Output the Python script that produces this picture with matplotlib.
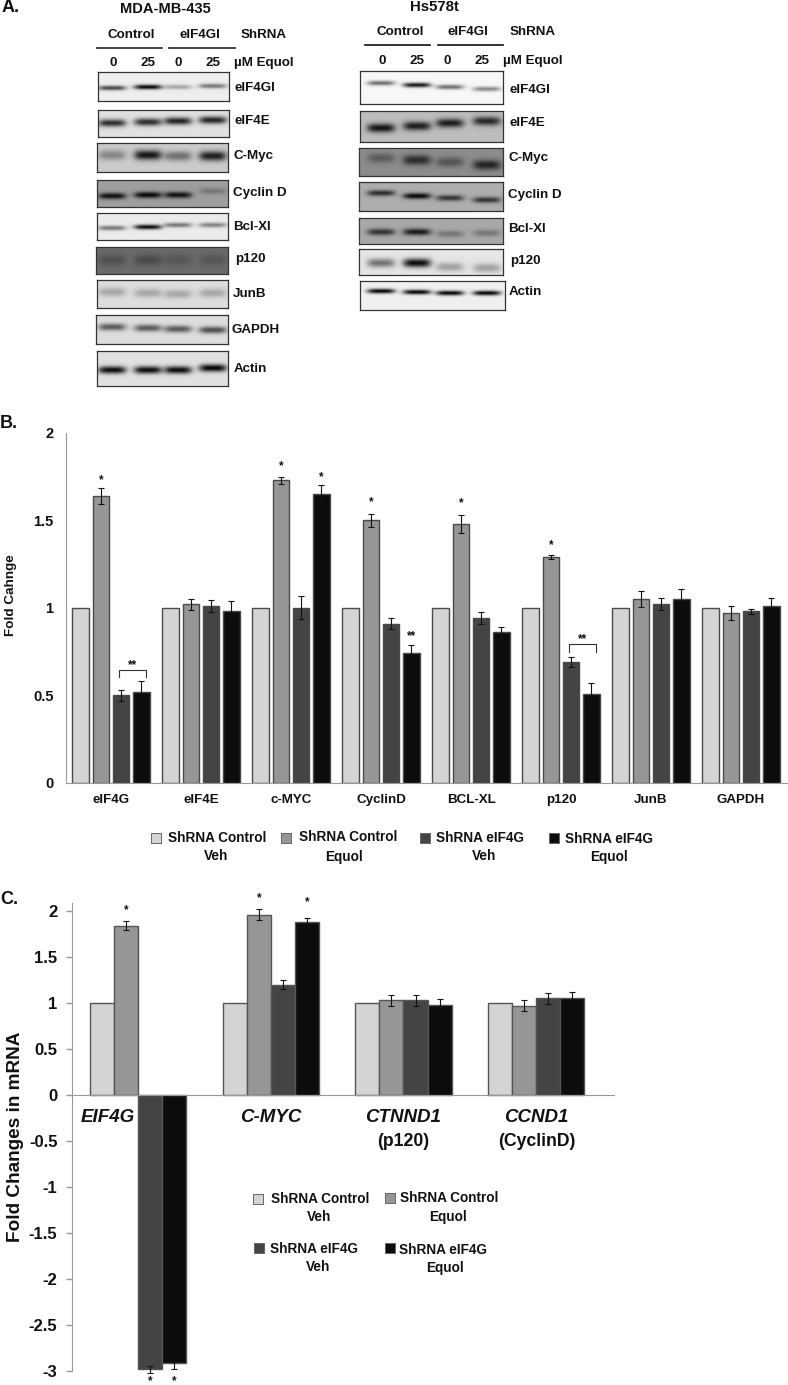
import numpy as np
import matplotlib
matplotlib.use('Agg')
import matplotlib.pyplot as plt

plt.rcParams['font.family'] = ['Liberation Sans', 'DejaVu Sans']
plt.rcParams['font.weight'] = 'bold'

W, H = 788, 1385

# panel B
b_groups = ['eIF4G', 'eIF4E', 'c-MYC', 'CyclinD', 'BCL-XL', 'p120', 'JunB', 'GAPDH']
b_ctrl_veh = [1, 1, 1, 1, 1, 1, 1, 1]
b_ctrl_eq = [1.64, 1.02, 1.73, 1.50, 1.48, 1.29, 1.05, 0.97]
b_sh_veh = [0.50, 1.01, 1.00, 0.91, 0.94, 0.69, 1.02, 0.98]
b_sh_eq = [0.52, 0.98, 1.65, 0.74, 0.86, 0.51, 1.05, 1.01]
b_err_ctrl_eq = [0.045, 0.03, 0.02, 0.035, 0.05, 0.012, 0.045, 0.04]
b_err_sh_veh = [0.033, 0.035, 0.065, 0.03, 0.035, 0.03, 0.035, 0.015]
b_err_sh_eq = [0.06, 0.06, 0.055, 0.05, 0.03, 0.06, 0.06, 0.045]
b_stars = [(0, 1, 1.73, '*'), (2, 1, 1.81, '*'), (2, 3, 1.745, '*'), (3, 1, 1.607, '*'),
           (3, 3, 0.84, '**'), (4, 1, 1.60, '*'), (5, 1, 1.36, '*')]
b_brackets = [(0, 0.644, 0.605), (5, 0.793, 0.746)]

# panel C
c_groups = ['EIF4G', 'C-MYC', 'CTNND1', 'CCND1']
c_ctrl_veh = [1, 1, 1, 1]
c_ctrl_eq = [1.84, 1.96, 1.03, 0.97]
c_sh_veh = [-2.98, 1.20, 1.03, 1.05]
c_sh_eq = [-2.91, 1.88, 0.98, 1.06]
c_err_ctrl_eq = [0.05, 0.06, 0.06, 0.06]
c_err_sh_veh = [0.04, 0.05, 0.06, 0.06]
c_err_sh_eq = [0.07, 0.04, 0.06, 0.06]
c_stars = [(0, 1, 2.01), (1, 1, 2.14), (1, 3, 2.10), (0, 2, -3.105), (0, 3, -3.105)]

colors = ['#d4d4d4', '#969696', '#444444', '#0c0c0c']

# blots, left panel
left_names = ['eIF4GI', 'eIF4E', 'C-Myc', 'Cyclin D', 'Bcl-Xl', 'p120', 'JunB', 'GAPDH', 'Actin']
left_boxes = [(98, 72, 229, 101), (98, 110, 229, 137), (97, 143, 228, 172), (97, 180, 228, 207),
              (97, 213, 228, 240), (96, 247, 228, 274), (97, 280, 228, 308), (96, 315, 228, 344),
              (97, 351, 228, 386)]
left_bg = [0.93, 0.88, 0.80, 0.62, 0.92, 0.42, 0.87, 0.87, 0.88]
left_sigma = [2.4, 3.8, 5.0, 3.2, 2.4, 6.0, 4.5, 3.6, 3.8]
left_band_y = [[88, 87, 87, 86], [123, 122, 121, 120], [155, 155, 156, 156], [196, 195, 195, 191],
               [228, 227, 225, 225], [260, 260, 260, 260], [292, 293, 294, 293],
               [327, 328, 329, 330], [370, 370, 370, 368]]
left_strength = [[0.7, 0.98, 0.3, 0.5], [0.8, 0.8, 0.85, 0.85], [0.35, 0.9, 0.45, 0.85],
                 [0.9, 0.95, 0.9, 0.25], [0.5, 0.95, 0.5, 0.45], [0.25, 0.3, 0.2, 0.2],
                 [0.25, 0.25, 0.25, 0.25], [0.6, 0.6, 0.6, 0.65], [0.95, 0.95, 0.95, 0.98]]
left_lanes = [112, 148, 178, 213]
left_label_xy = [(235, 88), (235, 121), (234, 156), (233, 193), (233, 227), (235, 259),
                 (233, 294), (232, 330), (234, 369)]

# blots, right panel
right_names = ['eIF4GI', 'eIF4E', 'C-Myc', 'Cyclin D', 'Bcl-Xl', 'p120', 'Actin']
right_boxes = [(360, 71, 503, 104), (360, 111, 503, 142), (359, 148, 503, 176), (359, 182, 503, 211),
               (359, 218, 503, 244), (359, 249, 503, 275), (360, 281, 505, 310)]
right_bg = [0.97, 0.74, 0.55, 0.68, 0.66, 0.90, 0.94]
right_sigma = [2.4, 4.5, 5.0, 3.0, 3.4, 4.5, 2.4]
right_band_y = [[83, 85, 87, 89], [128, 126, 123, 121], [158, 160, 162, 165], [193, 196, 198, 200],
                [232, 232, 234, 233], [263, 263, 267, 268], [291, 292, 293, 293]]
right_strength = [[0.55, 0.9, 0.55, 0.45], [0.9, 0.85, 0.85, 0.8], [0.35, 0.7, 0.4, 0.75],
                  [0.75, 0.95, 0.7, 0.7], [0.7, 0.85, 0.3, 0.3], [0.5, 0.95, 0.3, 0.3],
                  [0.98, 0.98, 0.98, 0.98]]
right_lanes = [381, 417, 450, 487]
right_label_xy = [(510, 90), (510, 123), (509, 158), (508, 195), (508, 229), (510, 261), (509, 292)]


def px_axes(fig, l, t, r, b):
    return fig.add_axes([l / W, 1 - b / H, (r - l) / W, (b - t) / H])


def draw_blot(fig, box, bg, sigma, band_y, strength, lanes):
    l, t, r, b = box
    ax = px_axes(fig, l, t, r, b)
    xs = np.linspace(l, r, (r - l) * 2)
    ys = np.linspace(t, b, (b - t) * 2)
    xx, yy = np.meshgrid(xs, ys)
    img = np.full(xx.shape, float(bg))
    for cx, cy, s in zip(lanes, band_y, strength):
        across = np.exp(-((xx - cx) / 14) ** 4)
        down = np.exp(-((yy - cy) / sigma) ** 2)
        img *= 1 - s * across * down
    ax.imshow(img, cmap='gray', vmin=0, vmax=1, aspect='auto', extent=(l, r, b, t),
              interpolation='bilinear')
    ax.set_xticks([])
    ax.set_yticks([])
    for sp in ax.spines.values():
        sp.set_color('#333333')
        sp.set_linewidth(0.9)


def grouped_bars(ax, centers, series, errs, step, width, edge):
    for i, vals in enumerate(series):
        x = centers + (i - 1.5) * step
        ax.bar(x, vals, width, color=colors[i], edgecolor=edge, linewidth=1.0, zorder=2)
        if errs[i] is not None:
            ax.errorbar(x, vals, yerr=errs[i], fmt='none', ecolor='#111111',
                        elinewidth=0.8, capsize=2, capthick=0.8, zorder=3)


fig = plt.figure(figsize=(W / 100, H / 100), dpi=100)
page = fig.add_axes([0, 0, 1, 1], zorder=5)
page.set_xlim(0, W)
page.set_ylim(H, 0)
page.axis('off')
page.patch.set_alpha(0)


def label(x, y, s, size=9.6, ha='center', **kw):
    page.text(x, y, s, fontsize=size, ha=ha, va='center', color='#111111', **kw)


# panel A
label(2, 8, 'A.', 13, ha='left')
label(165, 9, 'MDA-MB-435', 10.5)
label(434, 7, 'Hs578t', 10.8)

for box, bg, sg, by, st in zip(left_boxes, left_bg, left_sigma, left_band_y, left_strength):
    draw_blot(fig, box, bg, sg, by, st, left_lanes)
for box, bg, sg, by, st in zip(right_boxes, right_bg, right_sigma, right_band_y, right_strength):
    draw_blot(fig, box, bg, sg, by, st, right_lanes)

for name, (x, y) in zip(left_names, left_label_xy):
    label(x, y, name, ha='left')
for name, (x, y) in zip(right_names, right_label_xy):
    label(x, y, name, ha='left')

for x, s in zip([131, 200, 264], ['Control', 'eIF4GI', 'ShRNA']):
    label(x, 35, s)
for x, s in zip([400, 468, 533], ['Control', 'eIF4GI', 'ShRNA']):
    label(x, 32, s)
page.plot([97, 162], [48, 48], color='#222222', lw=1.2)
page.plot([169, 235], [48, 48], color='#222222', lw=1.2)
page.plot([365, 430], [44.5, 44.5], color='#111111', lw=1.2)
page.plot([438, 503], [44.5, 44.5], color='#111111', lw=1.2)
for x, s in zip([113, 148, 178, 213], ['0', '25', '0', '25']):
    label(x, 63, s)
for x, s in zip([382, 417, 447, 482], ['0', '25', '0', '25']):
    label(x, 61, s)
label(234, 63, 'µM Equol', ha='left')
label(503, 61, 'µM Equol', ha='left')

# panel B
label(0, 424, 'B.', 13, ha='left')
ax_b = px_axes(fig, 66, 433, 787, 782.7)
b_x = np.arange(len(b_groups)) + 0.5
grouped_bars(ax_b, b_x, [b_ctrl_veh, b_ctrl_eq, b_sh_veh, b_sh_eq],
             [None, b_err_ctrl_eq, b_err_sh_veh, b_err_sh_eq], 0.225, 0.185, '#4a4a4a')
ax_b.set_xlim(0, 721 / 90)
ax_b.set_ylim(0, 2)
ax_b.set_yticks([0, 0.5, 1, 1.5, 2])
ax_b.set_yticklabels(['0', '0.5', '1', '1.5', '2'], fontsize=10.5)
ax_b.set_xticks(b_x)
ax_b.set_xticklabels(b_groups, fontsize=9.6)
ax_b.tick_params(length=0, pad=8, colors='#111111')
ax_b.tick_params(axis='y', pad=9)
ax_b.spines[['top', 'right']].set_visible(False)
ax_b.spines[['left', 'bottom']].set_color('#999999')
for g, s, y, txt in b_stars:
    ax_b.text(b_x[g] + (s - 1.5) * 0.225, y, txt, ha='center', va='center', fontsize=8.5, color='#111111')
for g, top, low in b_brackets:
    x0, x1 = b_x[g] + 0.09, b_x[g] + 0.39
    ax_b.plot([x0, x0, x1, x1], [low, top, top, low], color='#333333', lw=0.8, zorder=4)
    ax_b.text((x0 + x1) / 2, top + 0.03, '**', ha='center', va='center', fontsize=8.5, color='#111111')
label(11, 595, 'Fold Cahnge', 9.7, rotation=90)

b_legend_swatches = [(156, 838), (286, 838), (425, 838), (554, 838)]
for (x, y), c in zip(b_legend_swatches, colors):
    page.scatter([x], [y], s=42, marker='s', color=c, edgecolor='#666666', linewidth=0.7)
for x, y, s in [(217, 838, 'ShRNA Control'), (216, 856, 'Veh'), (348, 837, 'ShRNA Control'),
                (344, 857, 'Equol'), (480, 838, 'ShRNA eIF4G'), (484, 856, 'Veh'),
                (609, 839, 'ShRNA eIF4G'), (609, 857, 'Equol')]:
    label(x, y, s, 9.8)

# panel C, axes box reaches past the drawn axis so the stars stay inside it
label(0, 899, 'C.', 13, ha='left')
ax_c = px_axes(fig, 72, 892.6, 614, 1385)
c_x = np.arange(len(c_groups)) + 0.5
grouped_bars(ax_c, c_x, [c_ctrl_veh, c_ctrl_eq, c_sh_veh, c_sh_eq],
             [None, c_err_ctrl_eq, c_err_sh_veh, c_err_sh_eq], 0.181, 0.181, '#555555')
ax_c.set_xlim(0, 542 / 132.6)
ax_c.set_ylim(-3.149, 2.2)
ax_c.set_yticks([-3, -2.5, -2, -1.5, -1, -0.5, 0, 0.5, 1, 1.5, 2])
ax_c.set_yticklabels(['-3', '-2.5', '-2', '-1.5', '-1', '-0.5', '0', '0.5', '1', '1.5', '2'], fontsize=12)
ax_c.set_xticks([])
ax_c.tick_params(axis='y', length=4, width=1, color='#999999', labelcolor='#111111', pad=6.5)
ax_c.spines[['top', 'right']].set_visible(False)
ax_c.spines[['left', 'bottom']].set_color('#999999')
ax_c.spines['bottom'].set_position(('data', 0))
ax_c.spines['left'].set_bounds(-3, 2.09)
for g, s, y in c_stars:
    ax_c.text(c_x[g] + (s - 1.5) * 0.181, y, '*', ha='center', va='center', fontsize=8.5, color='#111111')
label(16, 1137, 'Fold Changes in mRNA', 13.7, rotation=90)
for x, s in zip([108, 271, 403, 536], c_groups):
    label(x, 1118, s, 13.5, style='italic')
label(403, 1142, '(p120)', 12.7)
label(537, 1142, '(CyclinD)', 12.7)

c_legend_swatches = [(258, 1199), (390, 1198), (259, 1248), (390, 1248)]
for (x, y), c in zip(c_legend_swatches, colors):
    page.scatter([x], [y], s=42, marker='s', color=c, edgecolor='#666666', linewidth=0.7)
for x, y, s in [(320, 1199, 'ShRNA Control'), (319, 1217, 'Veh'), (449, 1198, 'ShRNA Control'),
                (448, 1217, 'Equol'), (314, 1249, 'ShRNA eIF4G'), (318, 1267, 'Veh'),
                (443, 1250, 'ShRNA eIF4G'), (445, 1268, 'Equol')]:
    label(x, y, s, 9.8)

fig.savefig('out.png', dpi=100)
